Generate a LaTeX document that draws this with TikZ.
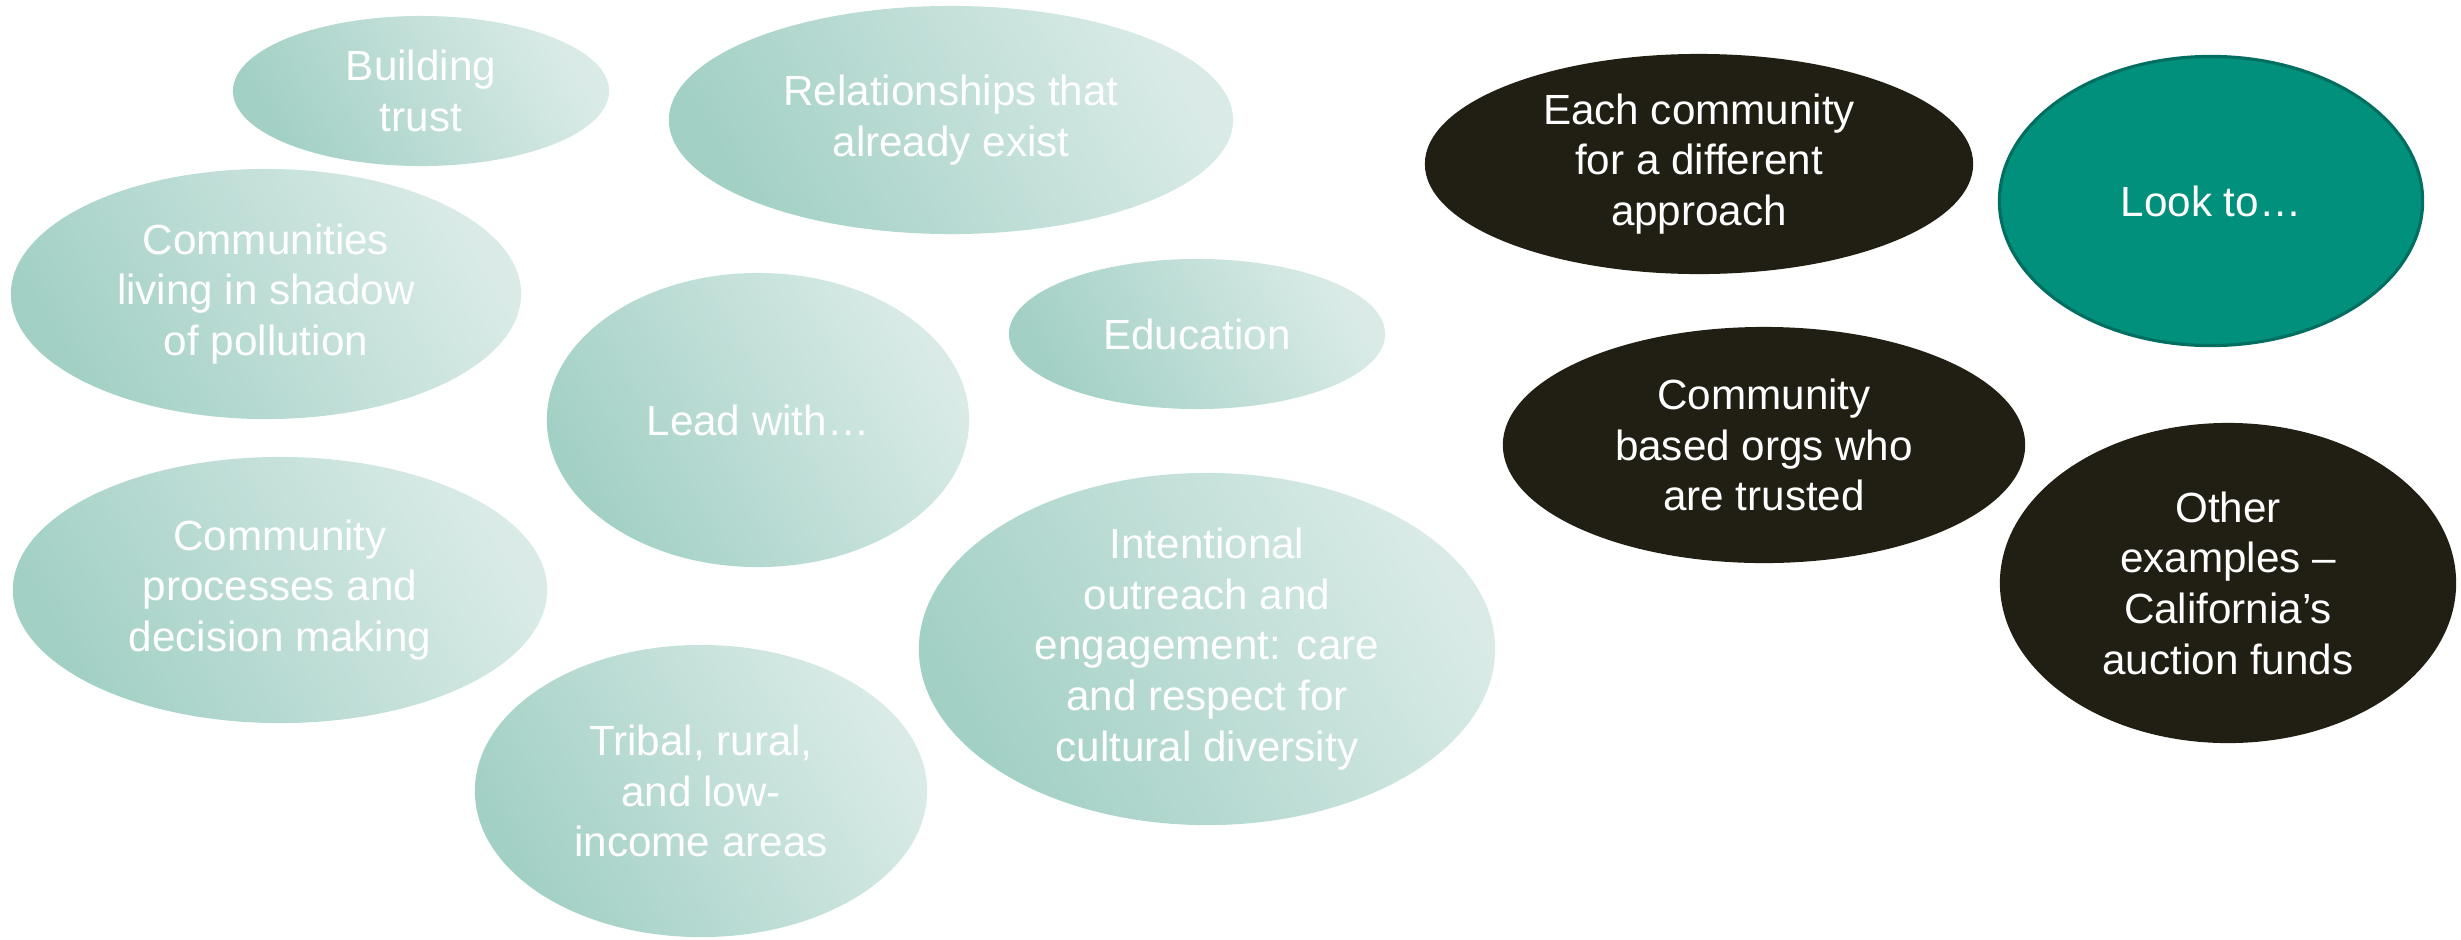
\documentclass[tikz,border=0pt]{standalone}
\usepackage{fontspec}
\setmainfont{Liberation Sans}
\usepackage{tikz}
\usetikzlibrary{shapes.geometric}
\definecolor{mintdark}{HTML}{A2D0C5}
\definecolor{mintlight}{HTML}{DAEBE7}
\definecolor{bubbleblack}{HTML}{211E14}
\definecolor{lookteal}{HTML}{00907C}
\definecolor{lookedge}{HTML}{006E60}

\begin{document}
\begin{tikzpicture}[x=0.01cm,y=-0.01cm,
  bubble/.style={ellipse,inner sep=0pt,align=center,text=white,font=\fontsize{12}{14.4}\selectfont},
  mint/.style={bubble,bottom color=mintdark,top color=mintlight,shading angle=-60},
  darkbubble/.style={bubble,fill=bubbleblack},
  lookbubble/.style={bubble,fill=lookteal,draw=lookedge,line width=0.9pt}]
\useasboundingbox (0,0) rectangle (2461,939);
% lead with...
\node[mint,minimum width=3.76cm,minimum height=1.5cm] (trust) at (421,91) {Building\\trust};
\node[mint,minimum width=5.64cm,minimum height=2.28cm] (exist) at (951,120) {Relationships that\\already exist};
\node[mint,minimum width=5.1cm,minimum height=2.5cm] (shadow) at (266,294) {Communities\\living in shadow\\of pollution};
\node[mint,minimum width=3.76cm,minimum height=1.5cm] (educ) at (1197,334) {Education};
\node[mint,minimum width=4.22cm,minimum height=2.94cm] (lead) at (758,420) {Lead with…};
\node[mint,minimum width=5.34cm,minimum height=2.66cm] (process) at (280,590) {Community\\processes and\\decision making};
\node[mint,minimum width=5.76cm,minimum height=3.52cm] (outreach) at (1207,649) {Intentional\\outreach and\\engagement: care\\and respect for\\cultural diversity};
\node[mint,minimum width=4.52cm,minimum height=2.92cm] (tribal) at (701,791) {Tribal, rural,\\and low-\\income areas};
% look to...
\node[darkbubble,minimum width=5.48cm,minimum height=2.2cm] (each) at (1699,164) {Each community\\for a different\\approach};
\node[lookbubble,minimum width=4.23cm,minimum height=2.89cm] (look) at (2211,201) {Look to…};
\node[darkbubble,minimum width=5.22cm,minimum height=2.36cm] (orgs) at (1764,445) {Community\\based orgs who\\are trusted};
\node[darkbubble,minimum width=4.56cm,minimum height=3.2cm] (other) at (2228,583) {Other\\examples –\\California’s\\auction funds};
\end{tikzpicture}
\end{document}
